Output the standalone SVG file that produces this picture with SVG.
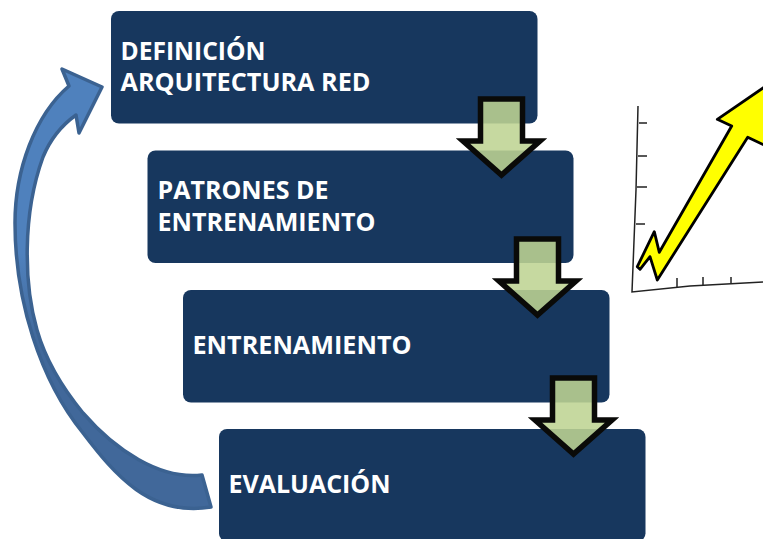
<svg xmlns="http://www.w3.org/2000/svg" width="763" height="539" viewBox="0 0 763 539">
<style>
.box{fill:#17375e}
.lbl{font-family:"Open Sans","Liberation Sans",sans-serif;font-weight:700;font-size:25.500px;fill:#fff}
.down{fill:#bed493;fill-opacity:.88;stroke:#0a0a08;stroke-width:5.500;stroke-linejoin:miter}
.ax{fill:none;stroke:#222;stroke-width:1.500}
</style>
<defs>
<linearGradient id="bg" x1="0" y1="0" x2="0" y2="1">
<stop offset="0" stop-color="#4f81bd"/><stop offset=".42" stop-color="#4f81bd"/><stop offset=".62" stop-color="#41689a"/><stop offset="1" stop-color="#41689a"/>
</linearGradient>
<path id="da" d="M480.500 99H522.500V141H540L501.500 175L463 141H480.500Z"/>
</defs>
<rect width="763" height="539" fill="#fff"/>
<g id="node-definicion"><rect class="box" x="111" y="11" width="426.500" height="112.500" rx="8"/><text class="lbl" x="120.500" y="60" textLength="145" lengthAdjust="spacingAndGlyphs">DEFINICIÓN</text><text class="lbl" x="120.500" y="91" textLength="250" lengthAdjust="spacingAndGlyphs">ARQUITECTURA RED</text></g>
<g id="node-patrones"><rect class="box" x="147.500" y="150.500" width="426" height="112.500" rx="8"/><text class="lbl" x="157.500" y="199" textLength="171" lengthAdjust="spacingAndGlyphs">PATRONES DE</text><text class="lbl" x="157.500" y="231" textLength="218" lengthAdjust="spacingAndGlyphs">ENTRENAMIENTO</text></g>
<g id="node-entrenamiento"><rect class="box" x="183" y="290" width="426.500" height="112.500" rx="8"/><text class="lbl" x="192.500" y="354" textLength="219" lengthAdjust="spacingAndGlyphs">ENTRENAMIENTO</text></g>
<g id="node-evaluacion"><rect class="box" x="219" y="429" width="426.500" height="112.500" rx="8"/><text class="lbl" x="228.500" y="493" textLength="162" lengthAdjust="spacingAndGlyphs">EVALUACIÓN</text></g>
<g id="connectors">
<use href="#da" class="down"/>
<use href="#da" class="down" x="36" y="140"/>
<use href="#da" class="down" x="72" y="279"/>
<path d="M202 475C160 480 115 450 83 413C60 385 45 358 37 330C24 285 22 215 43 157C50 140 62 125 76 115L79 133L102 87L62 69L69 86C35 115 15 170 15 223C15 300 40 380 83 433C115 475 150 517 211 507Z" fill="url(#bg)" stroke="#3b6291" stroke-width="3.500" stroke-linejoin="round"/>
</g>
<g id="chart">
<path class="ax" d="M638 106L636 190L632 292L690 286L763 282"/>
<path class="ax" stroke-width="1" d="M639 123H647M638 156H647M637 187H647M636 224H645M677 278V287M703 277V285M731 277V283"/>
<path d="M637.300 266.700L654.300 231.700L659.300 252.300L731.700 126L717.300 119.300L766 86V146L747.700 137.300L657.300 280L650 256.700L640 269.300Z" fill="#ff0" stroke="#000" stroke-width="2.800" stroke-linejoin="round"/>
</g>
</svg>
